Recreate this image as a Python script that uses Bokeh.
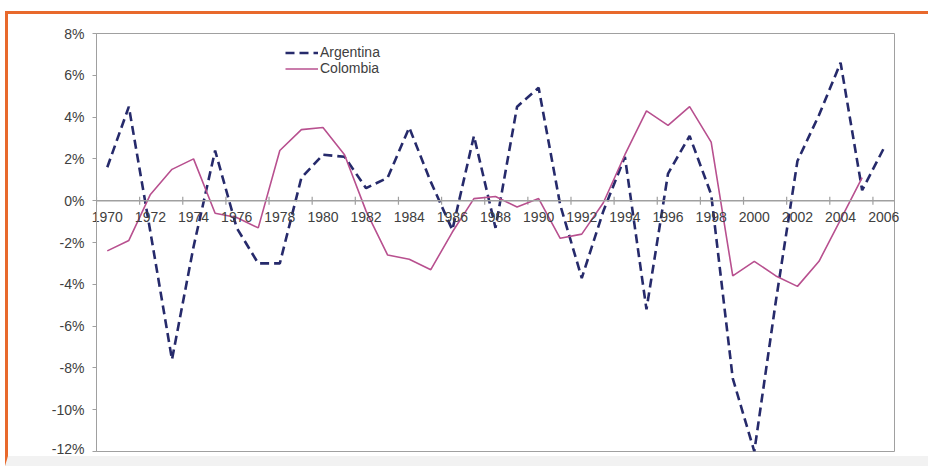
import numpy as np
from bokeh.plotting import figure
from bokeh.models import (Range1d, Span, FixedTicker, Legend, LegendItem,
                          ColumnDataSource)
from bokeh.embed import file_html
from bokeh.resources import INLINE

years = list(range(1970, 2007))
argentina = [1.6, 4.5, -1.5, -7.6, -2.2, 2.4, -1.3, -3.0, -3.0, 1.1,
             2.2, 2.1, 0.6, 1.1, 3.5, 0.9, -1.4, 3.1, -1.3, 4.5,
             5.4, -0.2, -3.7, -0.5, 2.1, -5.2, 1.3, 3.1, 0.3, -8.5,
             -12.0, -4.8, 1.9, 4.1, 6.6, 0.5, 2.5]
colombia = [-2.4, -1.9, 0.3, 1.5, 2.0, -0.6, -0.8, -1.3, 2.4, 3.4,
            3.5, 2.2, -0.5, -2.6, -2.8, -3.3, -1.5, 0.1, 0.2, -0.3,
            0.1, -1.8, -1.6, -0.1, 2.2, 4.3, 3.6, 4.5, 2.8, -3.6,
            -2.9, -3.6, -4.1, -2.9, -0.9, 1.1, float("nan")]
y_ticks = [-12, -10, -8, -6, -4, -2, 0, 2, 4, 6, 8]
x_ticks = years[::2]
x_labels = [str(y) for y in x_ticks]

FONT = "Liberation Sans"
TXT = "#404040"
GRID = "#a0a0a0"
ORANGE = "#e8692c"

# canvas is width x height; the host (border-box) clips it to (w-3) x (h-13)
p = figure(width=923, height=455, output_backend="svg", toolbar_location=None,
           x_range=Range1d(years[0] - 0.5, years[-1] + 0.5),
           y_range=Range1d(y_ticks[0], y_ticks[-1]),
           min_border_left=88, min_border_right=37,
           min_border_top=19, min_border_bottom=18)
p.styles = {"margin-left": "5px", "margin-top": "11px",
            "border-top": f"3px solid {ORANGE}",
            "border-left": f"3px solid {ORANGE}",
            "border-bottom": "10px solid #f2f2f2"}
p.background_fill_color = "white"
p.border_fill_color = "white"
p.outline_line_color = GRID
p.outline_line_width = 1
p.xgrid.visible = False
p.ygrid.visible = False

ax = p.yaxis[0]
ax.ticker = FixedTicker(ticks=y_ticks)
ax.major_label_overrides = {v: f"{v}%" for v in y_ticks}
ax.minor_tick_line_color = None
ax.major_tick_in = 0
ax.major_tick_out = 4
ax.major_tick_line_color = GRID
ax.axis_line_color = GRID
ax.major_label_standoff = 8
ax.major_label_text_font = FONT
ax.major_label_text_font_size = "14px"
ax.major_label_text_color = TXT

# year labels: bottom axis whose labels are lifted up to just under the zero line
xa = p.xaxis[0]
xa.ticker = FixedTicker(ticks=x_ticks)
xa.major_label_overrides = {v: t for v, t in zip(x_ticks, x_labels)}
xa.axis_line_color = None
xa.major_tick_line_color = None
xa.minor_tick_line_color = None
xa.major_tick_in = 0
xa.major_tick_out = 0
xa.major_label_standoff = -240
xa.major_label_text_font = FONT
xa.major_label_text_font_size = "14px"
xa.major_label_text_color = TXT

# zero axis line with category-boundary ticks
p.add_layout(Span(location=0, dimension="width", line_color=GRID, line_width=1.5))
bounds = [y - 0.5 for y in x_ticks]
p.scatter(x=bounds, y=[0] * len(bounds), marker="dash", angle=np.pi / 2,
          size=8, line_color=GRID, line_width=1.2)

src = ColumnDataSource(dict(x=years, a=argentina, c=colombia))
r_a = p.line("x", "a", source=src, line_color="#262a6b", line_width=2.6,
             line_dash="9 5")
r_c = p.line("x", "c", source=src, line_color="#b8508f", line_width=1.6)

legend = Legend(items=[LegendItem(label="Argentina", renderers=[r_a]),
                       LegendItem(label="Colombia", renderers=[r_c])],
                location=(189, 375), padding=0, margin=0, spacing=0,
                glyph_width=33, glyph_height=15, label_height=15,
                label_standoff=2, background_fill_alpha=0,
                border_line_alpha=0, label_text_font=FONT,
                label_text_font_size="14px", label_text_color=TXT)
p.add_layout(legend)

open("out.html", "w").write(file_html(p, INLINE))
